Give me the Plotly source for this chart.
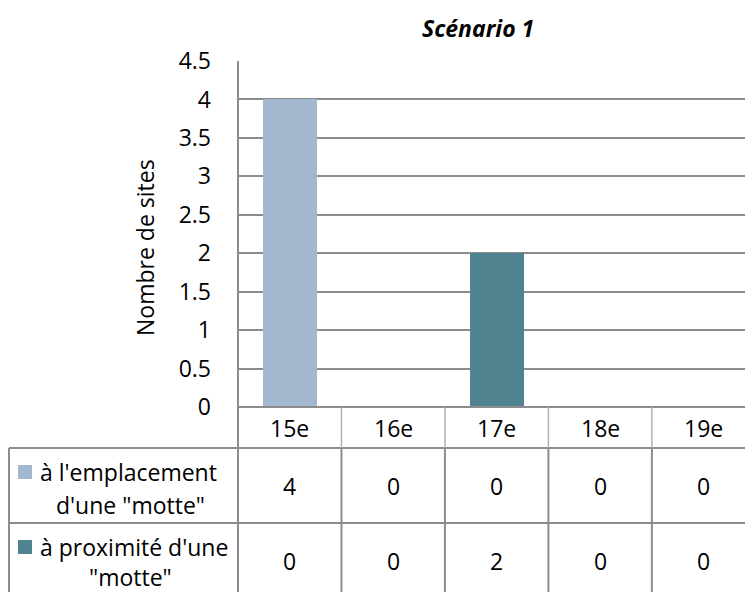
import plotly.graph_objects as go

categories = ["15e", "16e", "17e", "18e", "19e"]
series_names = ["à l'emplacement\nd'une \"motte\"", "à proximité d'une\n\"motte\""]
series_values = [[4, 0, 0, 0, 0], [0, 0, 2, 0, 0]]
series_colors = ["#A2B8CF", "#4E838F"]
title_text = "Scénario 1"
y_title = "Nombre de sites"

W, H = 745, 592
L, R, T, B = 238, 0, 61, 185
PW, PH = W - L - R, H - T - B
FONT = "Open Sans, Noto Sans, sans-serif"
FS = 23
LINE = "#8c8c8c"

def px_x(px):
    return (px - L) / PW

def px_y(py):
    return (H - B - py) / PH

fig = go.Figure()
for name, vals, col in zip(series_names, series_values, series_colors):
    fig.add_trace(go.Bar(x=categories, y=vals, name=name.replace("\n", " "),
                         marker=dict(color=col, line=dict(width=0)), width=0.52))

shapes = []
shapes.append(dict(type="line", xref="paper", yref="paper", x0=0, x1=0,
                   y0=1, y1=px_y(H + 2), line=dict(color=LINE, width=2)))
shapes.append(dict(type="line", xref="paper", yref="paper", x0=0, x1=1,
                   y0=0, y1=0, line=dict(color=LINE, width=2)))
for ypx in [448, 523]:
    shapes.append(dict(type="line", xref="paper", yref="paper", x0=px_x(9), x1=1,
                       y0=px_y(ypx), y1=px_y(ypx), line=dict(color=LINE, width=2)))
shapes.append(dict(type="line", xref="paper", yref="paper", x0=px_x(9), x1=px_x(9),
                   y0=px_y(448), y1=px_y(H + 2), line=dict(color=LINE, width=2)))
for i in range(len(categories) - 1):
    shapes.append(dict(type="line", xref="x", yref="paper", x0=i + 0.5, x1=i + 0.5,
                       y0=0, y1=px_y(448), line=dict(color="#b0b0b0", width=1.5)))
    shapes.append(dict(type="line", xref="x", yref="paper", x0=i + 0.5, x1=i + 0.5,
                       y0=px_y(448), y1=px_y(H + 2), line=dict(color=LINE, width=2)))

def txt(text, x, y, xref="paper", xanchor="center", **kw):
    return dict(text=text, xref=xref, yref="paper", x=x, y=y, xanchor=xanchor,
                yanchor="middle", showarrow=False,
                font=dict(family=FONT, size=FS, color="#000"), **kw)

annotations = []
annotations.append(txt("<b><i>" + title_text + "</i></b>", px_x(478), px_y(28)))
annotations.append(txt(y_title, px_x(145), px_y(248), textangle=-90))
for i, c in enumerate(categories):
    annotations.append(txt(c, i, px_y(428), xref="x"))

row_centers = [486, 561]
row_line1 = [472, 547]
row_line2 = [505, 577]
for r, (name, vals, col) in enumerate(zip(series_names, series_values, series_colors)):
    for i, v in enumerate(vals):
        annotations.append(txt(str(v), i, px_y(row_centers[r]), xref="x"))
    l1, l2 = name.split("\n")
    annotations.append(txt(l1, px_x(38), px_y(row_line1[r]), xanchor="left"))
    annotations.append(txt(l2, px_x(130), px_y(row_line2[r])))
    yc = row_line1[r]
    shapes.append(dict(type="rect", xref="paper", yref="paper", x0=px_x(18), x1=px_x(32),
                       y0=px_y(yc - 7), y1=px_y(yc + 7), fillcolor=col, line=dict(width=0)))

fig.update_layout(
    width=W, height=H,
    margin=dict(l=L, r=R, t=T, b=B, pad=0),
    paper_bgcolor="white", plot_bgcolor="white",
    barmode="stack", showlegend=False,
    font=dict(family=FONT, size=FS, color="#000"),
    xaxis=dict(range=[-0.5, 4.4], showticklabels=False, showgrid=False, zeroline=False,
               showline=False, fixedrange=True),
    yaxis=dict(range=[0, 4.5], dtick=0.5, tick0=0, showgrid=True, gridcolor=LINE, gridwidth=2,
               zeroline=False, showline=False, ticks="", ticklabelstandoff=26,
               tickfont=dict(family=FONT, size=FS, color="#000")),
    shapes=shapes, annotations=annotations,
)

fig.write_html("out.html", config={"displayModeBar": False},
               post_script="document.body.style.margin='0';")
